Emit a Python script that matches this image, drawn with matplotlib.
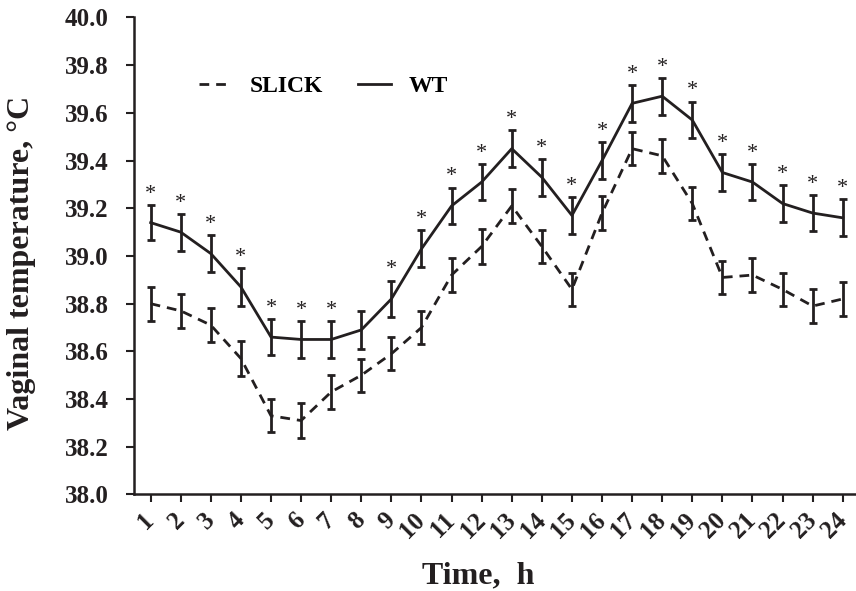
import matplotlib
matplotlib.use("Agg")
import matplotlib.pyplot as plt
from matplotlib.lines import Line2D

hours = list(range(1, 25))
wt = [39.14, 39.10, 39.01, 38.87, 38.66, 38.65, 38.65, 38.69, 38.82, 39.03,
      39.21, 39.31, 39.45, 39.33, 39.17, 39.40, 39.64, 39.67, 39.57, 39.35,
      39.31, 39.22, 39.18, 39.16]
wt_err = [0.075, 0.077, 0.078, 0.078, 0.077, 0.077, 0.077, 0.078, 0.077, 0.077,
          0.077, 0.077, 0.077, 0.077, 0.077, 0.077, 0.077, 0.077, 0.077, 0.077,
          0.077, 0.077, 0.077, 0.077]
slick = [38.80, 38.77, 38.71, 38.57, 38.33, 38.31, 38.43, 38.50, 38.59, 38.70,
         38.92, 39.04, 39.21, 39.04, 38.86, 39.18, 39.45, 39.42, 39.22, 38.91,
         38.92, 38.86, 38.79, 38.82]
slick_err = [0.072, 0.072, 0.072, 0.072, 0.07, 0.072, 0.07, 0.07, 0.07, 0.07,
             0.07, 0.072, 0.07, 0.07, 0.07, 0.072, 0.07, 0.07, 0.07, 0.07,
             0.07, 0.07, 0.07, 0.07]
significant = [True] * 7 + [False] + [True] * 16
yticks = [38.0, 38.2, 38.4, 38.6, 38.8, 39.0, 39.2, 39.4, 39.6, 39.8, 40.0]

plt.rcParams['font.family'] = ['Liberation Serif', 'DejaVu Serif']

W, H = 856, 591
fig = plt.figure(figsize=(W / 100, H / 100), dpi=100)
ax = fig.add_axes([0.1565, 0.1633, 0.8435, 0.8071])

col = '#231f20'
dash = (0, (3.5, 2.5))
ax.errorbar(hours, slick, yerr=slick_err, color=col, lw=2, ls=dash,
            capsize=3, elinewidth=2, capthick=2)
ax.errorbar(hours, wt, yerr=wt_err, color=col, lw=2, ls='-',
            capsize=3, elinewidth=2, capthick=2)

for h, v, e, s in zip(hours, wt, wt_err, significant):
    if s:
        ax.text(h, v + e + 0.005, '*', ha='center', va='bottom', fontsize=16, color=col)

ax.set_xlim(0.445, 24.44)
ax.set_ylim(38.0, 40.0)
ax.set_yticks(yticks)
ax.set_yticklabels([f"{t:.1f}" for t in yticks], fontsize=18, fontweight='bold', color=col)
ax.set_xticks(hours)
ax.set_xticklabels([str(h) for h in hours], fontsize=18, fontweight='bold', color=col,
                   rotation=45, ha='right', va='center', rotation_mode='anchor')
ax.tick_params(axis='both', direction='out', width=1.5, length=6, colors=col)
ax.tick_params(axis='x', pad=10)
ax.tick_params(axis='y', pad=12)
for sp in ['top', 'right']:
    ax.spines[sp].set_visible(False)
for sp in ['left', 'bottom']:
    ax.spines[sp].set_linewidth(1.8)
    ax.spines[sp].set_color(col)

fig.text(22 / W, 1 - 263 / H, 'Vaginal temperature, \u00b0C', rotation=90,
         ha='center', va='center', fontsize=23, fontweight='bold', color=col)
fig.text(478 / W, 1 - 583 / H, 'Time,  h', ha='center', va='baseline',
         fontsize=23, fontweight='bold', color=col)

handles = [Line2D([], [], color=col, lw=2, ls=dash),
           Line2D([], [], color=col, lw=2, ls='-')]
ax.legend(handles, ['SLICK', 'WT'], loc='center left', bbox_to_anchor=(0.06, 0.855),
          ncol=2, frameon=False, handlelength=1.4, columnspacing=1.5, handletextpad=0.75,
          prop={'family': 'Liberation Serif', 'weight': 'bold', 'size': 17})

fig.savefig('out.png', dpi=100)
